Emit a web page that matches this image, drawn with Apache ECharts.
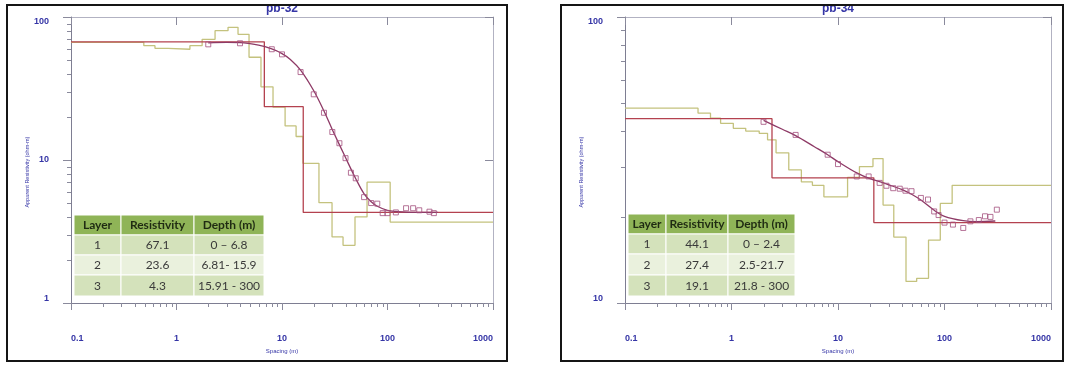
<!DOCTYPE html>
<html>
<head>
<meta charset="utf-8">
<script src="https://cdn.jsdelivr.net/npm/echarts@6/dist/echarts.min.js"></script>
<style>
html,body{margin:0;padding:0;background:#fff;}
#c{width:1068px;height:365px;}
</style>
</head>
<body>
<div id="c"></div>
<script>
// ---------------- DATA ----------------
const panelTitles = ['pb-32', 'pb-34'];
const xAxisName = 'Spacing (m)';
const yAxisName = 'Apparent Resistivity (ohm-m)';
const xRange = [0.1, 1000];
const yRange32 = [1, 100];
const yRange34 = [10, 100];
const minorMultipliers = [2, 3, 4, 5, 6, 7, 8, 9];

// pb-32 observed field data
const pb32ObsX = [2, 4, 8, 10, 15, 20, 25, 30, 35, 40, 45, 50, 60, 70, 80, 90, 100, 120, 150, 175, 200, 250, 275];
const pb32ObsY = [64.4, 65.5, 59.5, 54.8, 41.2, 28.8, 21.4, 15.7, 13.1, 10.3, 8.15, 7.45, 5.5, 5.0, 4.95, 4.25, 4.25, 4.3, 4.6, 4.6, 4.45, 4.35, 4.25];
// pb-32 calculated curve
const pb32CalcX = [2, 3, 4, 6, 8, 10, 12, 15, 20, 25, 30, 40, 50, 60, 70, 80, 100, 150, 200, 300];
const pb32CalcY = [66.0, 66.4, 66.2, 63.5, 59.8, 55.5, 50.5, 42.5, 30.5, 22.0, 16.3, 10.4, 7.4, 5.8, 5.1, 4.75, 4.45, 4.32, 4.3, 4.3];
// pb-32 layered model (red)
const pb32ModelDepths = [6.8, 15.9];
const pb32ModelRes = [67.1, 23.6, 4.3];
// pb-32 equivalent multilayer model (green)
const pb32AltDepths = [0.49, 0.625, 0.83, 1.34, 1.75, 2.32, 3.08, 3.83, 4.87, 6.32, 8.22, 10.7, 13.6, 15.8, 22.4, 29.8, 37.9, 49.2, 64, 106];
const pb32AltRes = [66.5, 63.0, 60.4, 59.5, 63.0, 69.8, 80.2, 84.7, 75.7, 52.3, 32.5, 23.4, 17.3, 14.6, 9.48, 5.03, 2.9, 2.53, 4.0, 7.0, 3.68];

// pb-34 observed field data
const pb34ObsX = [2, 4, 8, 10, 15, 19.4, 24.6, 28.5, 33, 38, 43, 49, 60, 70, 80, 88, 100, 120, 150, 175, 210, 240, 270, 310];
const pb34ObsY = [43.0, 38.7, 33.0, 30.6, 27.7, 27.7, 26.3, 25.7, 25.2, 25.1, 24.7, 24.6, 23.3, 23.0, 20.9, 20.3, 19.1, 18.8, 18.3, 19.3, 19.5, 20.1, 20.0, 21.2];
// pb-34 calculated curve
const pb34CalcX = [2, 3, 4, 6, 8, 10, 15, 20, 25, 30, 40, 50, 60, 80, 100, 150, 200, 300];
const pb34CalcY = [43.5, 40.5, 38.5, 35.2, 33.0, 31.2, 28.5, 27.2, 26.5, 25.9, 24.9, 23.9, 22.9, 21.1, 20.1, 19.4, 19.25, 19.35];
// pb-34 layered model (red)
const pb34ModelDepths = [2.4, 21.7];
const pb34ModelRes = [44.1, 27.4, 19.1];
// pb-34 equivalent multilayer model (green)
const pb34AltDepths = [0.485, 0.635, 0.79, 1.04, 1.36, 1.82, 2.18, 2.62, 3.45, 4.53, 5.75, 7.37, 12.3, 15.9, 21.3, 26.5, 33.4, 43.5, 54.8, 70.8, 91.3, 118];
const pb34AltRes = [48.0, 46.1, 44.3, 42.5, 40.8, 39.9, 39.2, 37.2, 33.5, 29.2, 26.5, 25.8, 23.5, 27.5, 30.0, 32.0, 22.0, 17.0, 11.9, 12.2, 16.6, 22.3, 25.8];

// table contents
const tableHeader = ['Layer', 'Resistivity', 'Depth (m)'];
const pb32TableLayer = ['1', '2', '3'];
const pb32TableRes = ['67.1', '23.6', '4.3'];
const pb32TableDepth = ['0 \u2013 6.8', '6.81- 15.9', '15.91 - 300'];
const pb34TableLayer = ['1', '2', '3'];
const pb34TableRes = ['44.1', '27.4', '19.1'];
const pb34TableDepth = ['0 \u2013 2.4', '2.5-21.7', '21.8 - 300'];

// ---------------- HELPERS ----------------
function zip(xs, ys) { return xs.map((x, i) => [x, ys[i]]); }
function stepModel(depths, res, xmin, xmax) {
  const pts = [[xmin, res[0]]];
  depths.forEach((d, i) => { pts.push([d, res[i]]); pts.push([d, res[i + 1]]); });
  pts.push([xmax, res[res.length - 1]]);
  return pts;
}
function decadesBetween(a, b) {
  const out = [];
  for (let e = Math.round(Math.log10(a)); e < Math.round(Math.log10(b)); e++) out.push(Math.pow(10, e));
  return out;
}
function minorValues(a, b) {
  const out = [];
  decadesBetween(a, b).forEach(d => minorMultipliers.forEach(m => out.push(+(d * m).toPrecision(6))));
  return out;
}
const fmt = v => String(+Number(v).toPrecision(6));

const LABEL = '#3535a6';
const FRAME = '#b2b2c2';
const AXIS = '#7e7e92';
const TICK = '#8a8a9c';
const LABEL_FONT = '"Liberation Sans Narrow", "Liberation Sans", Arial, sans-serif';

const panels = [
  { title: panelTitles[0], left: 71, top: 17, width: 422, height: 286, yr: yRange32,
    obs: zip(pb32ObsX, pb32ObsY), calc: zip(pb32CalcX, pb32CalcY),
    model: stepModel(pb32ModelDepths, pb32ModelRes, xRange[0], xRange[1]),
    alt: stepModel(pb32AltDepths, pb32AltRes, xRange[0], xRange[1]),
    table: { x: 74, y: 215, cols: [47, 73, 70], rows: [20, 20, 20, 21],
             body: [pb32TableLayer, pb32TableRes, pb32TableDepth] },
    border: { x: 7, y: 5, w: 500, h: 356 } },
  { title: panelTitles[1], left: 625, top: 17, width: 426, height: 286, yr: yRange34,
    obs: zip(pb34ObsX, pb34ObsY), calc: zip(pb34CalcX, pb34CalcY),
    model: stepModel(pb34ModelDepths, pb34ModelRes, xRange[0], xRange[1]),
    alt: stepModel(pb34AltDepths, pb34AltRes, xRange[0], xRange[1]),
    table: { x: 628, y: 214, cols: [38, 62, 67], rows: [20, 20, 21, 21],
             body: [pb34TableLayer, pb34TableRes, pb34TableDepth] },
    border: { x: 561, y: 5, w: 502, h: 356 } }
];

const grids = [], xAxes = [], yAxes = [], series = [], titles = [], graphics = [];

panels.forEach((p, i) => {
  grids.push({ left: p.left, top: p.top, width: p.width, height: p.height, outerBoundsMode: 'none', containLabel: false });
  titles.push({ text: p.title, left: p.left + p.width / 2, top: 3, textAlign: 'center', padding: 0,
    textStyle: { color: LABEL, fontSize: 12, fontWeight: 'bold', fontFamily: LABEL_FONT } });

  xAxes.push({ type: 'log', logBase: 10, gridIndex: i, position: 'bottom', min: xRange[0], max: xRange[1],
    axisLine: { onZero: false, lineStyle: { color: AXIS, width: 1 } },
    axisTick: { show: true, length: 7, lineStyle: { color: TICK } },
    axisLabel: { show: true, margin: 31, color: LABEL, fontSize: 9, fontWeight: 'bold', fontFamily: LABEL_FONT,
      formatter: fmt, alignMinLabel: 'left', alignMaxLabel: 'right', showMinLabel: true, showMaxLabel: true },
    splitLine: { show: false }, minorTick: { show: false },
    name: xAxisName, nameLocation: 'middle', nameGap: 42,
    nameTextStyle: { color: LABEL, fontSize: 6, fontFamily: LABEL_FONT } });
  xAxes.push({ type: 'log', logBase: 10, gridIndex: i, position: 'top', min: xRange[0], max: xRange[1],
    axisLine: { onZero: false, lineStyle: { color: FRAME, width: 1 } },
    axisTick: { show: true, inside: true, length: 8, lineStyle: { color: TICK } },
    axisLabel: { show: false }, splitLine: { show: false } });

  yAxes.push({ type: 'log', logBase: 10, gridIndex: i, position: 'left', min: p.yr[0], max: p.yr[1],
    axisLine: { onZero: false, lineStyle: { color: AXIS, width: 1 } },
    axisTick: { show: true, length: 8, lineStyle: { color: TICK } },
    axisLabel: { show: true, margin: 22, color: LABEL, fontSize: 9, fontWeight: 'bold', fontFamily: LABEL_FONT,
      formatter: fmt, verticalAlignMinLabel: 'bottom', verticalAlignMaxLabel: 'top', showMinLabel: true, showMaxLabel: true },
    splitLine: { show: false },
    name: yAxisName, nameLocation: 'middle', nameGap: 26,
    nameTextStyle: { color: LABEL, fontSize: 5.5, fontFamily: LABEL_FONT, padding: [0, 24, 0, 0] } });
  yAxes.push({ type: 'log', logBase: 10, gridIndex: i, position: 'right', min: p.yr[0], max: p.yr[1],
    axisLine: { onZero: false, lineStyle: { color: FRAME, width: 1 } },
    axisTick: { show: true, inside: true, length: 8, lineStyle: { color: TICK } },
    axisLabel: { show: false }, splitLine: { show: false } });

  const xi = 2 * i, yi = 2 * i;
  series.push({ type: 'line', name: 'alt' + i, xAxisIndex: xi, yAxisIndex: yi, data: p.alt, symbol: 'none',
    lineStyle: { color: '#c4c27e', width: 1.3 }, z: 2, silent: true });
  series.push({ type: 'line', name: 'model' + i, xAxisIndex: xi, yAxisIndex: yi, data: p.model, symbol: 'none',
    lineStyle: { color: '#b4424f', width: 1.3 }, z: 3, silent: true });
  series.push({ type: 'line', name: 'calc' + i, xAxisIndex: xi, yAxisIndex: yi, data: p.calc, symbol: 'none', smooth: 0.35,
    lineStyle: { color: '#8e3a66', width: 1.3 }, z: 4, silent: true });
  series.push({ type: 'scatter', name: 'obs' + i, xAxisIndex: xi, yAxisIndex: yi, data: p.obs, symbol: 'rect', symbolSize: 5,
    itemStyle: { color: 'rgba(255,255,255,0)', borderColor: '#a4507e', borderWidth: 1 }, z: 5, silent: true });

  // minor log ticks (bottom and left), placed through the axes' scales
  series.push({ type: 'custom', xAxisIndex: xi, yAxisIndex: yi, clip: false, silent: true, z: 1,
    data: minorValues(xRange[0], xRange[1]).map(v => [v, p.yr[0]]),
    renderItem: (params, api) => {
      const c = api.coord([api.value(0), api.value(1)]);
      const x = Math.round(c[0]) + 0.5;
      return { type: 'line', shape: { x1: x, y1: c[1], x2: x, y2: c[1] + 4 }, style: { stroke: TICK, lineWidth: 1 } };
    } });
  series.push({ type: 'custom', xAxisIndex: xi, yAxisIndex: yi, clip: false, silent: true, z: 1,
    data: minorValues(p.yr[0], p.yr[1]).map(v => [xRange[0], v]),
    renderItem: (params, api) => {
      const c = api.coord([api.value(0), api.value(1)]);
      const y = Math.round(c[1]) + 0.5;
      return { type: 'line', shape: { x1: c[0] - 4, y1: y, x2: c[0], y2: y }, style: { stroke: TICK, lineWidth: 1 } };
    } });

  // table
  const t = p.table;
  const fills = ['#8fb457', '#d4e2bb', '#eaf1dd', '#d4e2bb'];
  let yy = t.y;
  for (let r = 0; r < 4; r++) {
    let xx = t.x;
    for (let c = 0; c < 3; c++) {
      const w = t.cols[c], h = t.rows[r];
      graphics.push({ type: 'rect', z: 50, silent: true,
        shape: { x: xx, y: yy, width: w, height: h },
        style: { fill: fills[r], stroke: '#ffffff', lineWidth: 1 } });
      const txt = r === 0 ? tableHeader[c] : t.body[c][r - 1];
      graphics.push({ type: 'text', z: 51, silent: true, x: xx + w / 2, y: yy + h / 2 + 0.5,
        style: { text: txt, textAlign: 'center', textVerticalAlign: 'middle',
          fill: r === 0 ? '#1f2b12' : '#3a3a3a', fontSize: 12, fontWeight: r === 0 ? 'bold' : 'normal',
          fontFamily: 'Lato, "Open Sans", sans-serif' } });
      xx += w;
    }
    yy += t.rows[r];
  }

  // panel border
  graphics.push({ type: 'rect', z: 101, silent: true,
    shape: { x: p.border.x, y: p.border.y, width: p.border.w, height: p.border.h },
    style: { fill: 'none', stroke: '#151515', lineWidth: 2 } });
});

// white strip above the panel borders (clips title tops as in the source)
graphics.push({ type: 'rect', z: 100, silent: true, shape: { x: 0, y: 0, width: 1068, height: 4 }, style: { fill: '#ffffff' } });

const chart = echarts.init(document.getElementById('c'), null, { renderer: 'canvas' });
chart.setOption({
  animation: false,
  backgroundColor: '#ffffff',
  title: titles,
  grid: grids,
  xAxis: xAxes,
  yAxis: yAxes,
  series: series,
  graphic: { elements: graphics }
});
</script>
</body>
</html>
